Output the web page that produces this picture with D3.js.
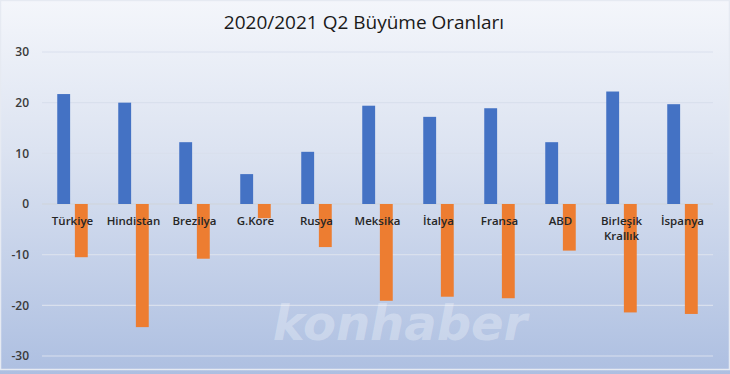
<!DOCTYPE html>
<html>
<head>
<meta charset="utf-8">
<script src="https://cdn.jsdelivr.net/npm/d3@7"></script>
<style>
  body { margin: 0; background: #fff; }
  svg { display: block; }
</style>
</head>
<body>
<svg class="chart"></svg>
<script>
const width = 730;
const height = 374;

const countries = ['Türkiye', 'Hindistan', 'Brezilya', 'G.Kore', 'Rusya', 'Meksika',
    'İtalya', 'Fransa', 'ABD', 'Birleşik Krallık', 'İspanya'];
const q2_2021 = [21.7, 20.0, 12.2, 5.9, 10.3, 19.4, 17.2, 18.9, 12.2, 22.2, 19.7];
const q2_2020 = [-10.5, -24.3, -10.8, -2.8, -8.5, -19.1, -18.3, -18.6, -9.2, -21.4, -21.7];
const yTicks = [30, 20, 10, 0, -10, -20, -30];

const seriesKeys = ['a', 'b'];
const colors = { a: '#4472c4', b: '#ed7d31' };

const data = countries.map((c, i) => ({ name: c, a: q2_2021[i], b: q2_2020[i] }));

const svg = d3.select('svg.chart')
    .attr('width', width)
    .attr('height', height);

// background gradient
const defs = svg.append('defs');
const grad = defs.append('linearGradient')
    .attr('id', 'bg')
    .attr('x1', 0).attr('y1', 0).attr('x2', 0).attr('y2', 1);
grad.append('stop').attr('offset', '0%').attr('stop-color', '#f4f6fb');
grad.append('stop').attr('offset', '40%').attr('stop-color', '#dce3f1');
grad.append('stop').attr('offset', '100%').attr('stop-color', '#adbfe1');

svg.append('rect')
    .attr('width', width)
    .attr('height', height)
    .attr('fill', 'url(#bg)');

svg.append('rect')
    .attr('x', 0.5).attr('y', 0.5)
    .attr('width', width - 1).attr('height', height - 5)
    .attr('fill', 'none')
    .attr('stroke', '#e6eaf2')
    .attr('stroke-width', 1.5);

const y = d3.scaleLinear()
    .domain([-30, 30])
    .range([356, 52]);

const x0 = d3.scaleBand()
    .domain(countries)
    .range([42, 713])
    .paddingInner(0.5)
    .paddingOuter(0.25);

const x1 = d3.scaleBand()
    .domain(seriesKeys)
    .range([0, x0.bandwidth()])
    .paddingInner(0.27);

// gridlines
svg.append('g')
    .selectAll('line')
    .data(yTicks)
    .join('line')
    .attr('x1', 42)
    .attr('x2', 713)
    .attr('y1', d => y(d))
    .attr('y2', d => y(d))
    .attr('stroke', d => d === 0 ? '#cfd3da' : '#d9e0ed')
    .attr('stroke-width', 1.2);

// y axis labels
const yAxis = svg.append('g')
    .attr('transform', 'translate(29,0)')
    .call(d3.axisLeft(y).tickValues(yTicks).tickFormat(d => String(d)).tickSize(0).tickPadding(0));
yAxis.select('.domain').remove();
yAxis.selectAll('text')
    .attr('font-family', 'Open Sans, sans-serif')
    .attr('font-size', 12)
    .attr('font-weight', 600)
    .attr('fill', '#3a3a3a');

// watermark
svg.append('text')
    .attr('x', 400)
    .attr('y', 340)
    .attr('text-anchor', 'middle')
    .attr('font-family', 'DejaVu Sans, sans-serif')
    .attr('font-size', 48)
    .attr('font-weight', 'bold')
    .attr('font-style', 'italic')
    .attr('fill', '#ffffff')
    .attr('fill-opacity', 0.3)
    .text('konhaber');

// bars
const groups = svg.append('g')
    .selectAll('g')
    .data(data)
    .join('g')
    .attr('transform', d => `translate(${x0(d.name)},0)`);

groups.selectAll('rect')
    .data(d => seriesKeys.map(k => ({ key: k, value: d[k] })))
    .join('rect')
    .attr('x', d => x1(d.key))
    .attr('width', x1.bandwidth())
    .attr('y', d => y(Math.max(0, d.value)))
    .attr('height', d => Math.abs(y(d.value) - y(0)))
    .attr('fill', d => colors[d.key]);

// category labels (drawn over bars)
const labels = svg.append('g')
    .selectAll('text')
    .data(countries)
    .join('text')
    .attr('x', d => x0(d) + x0.bandwidth() / 2)
    .attr('y', 225)
    .attr('text-anchor', 'middle')
    .attr('font-family', 'Open Sans, sans-serif')
    .attr('font-size', 11.5)
    .attr('font-weight', 600)
    .attr('fill', '#262626');

labels.each(function (d) {
    const words = d.split(' ');
    const t = d3.select(this);
    words.forEach((w, i) => {
        t.append('tspan')
            .attr('x', x0(d) + x0.bandwidth() / 2)
            .attr('dy', i === 0 ? 0 : 14.5)
            .text(w);
    });
});

// title
svg.append('text')
    .attr('x', 364)
    .attr('y', 29)
    .attr('text-anchor', 'middle')
    .attr('font-family', 'Open Sans, sans-serif')
    .attr('font-size', 19)
    .attr('fill', '#1a1a1a')
    .text('2020/2021 Q2 Büyüme Oranları');
</script>
</body>
</html>
